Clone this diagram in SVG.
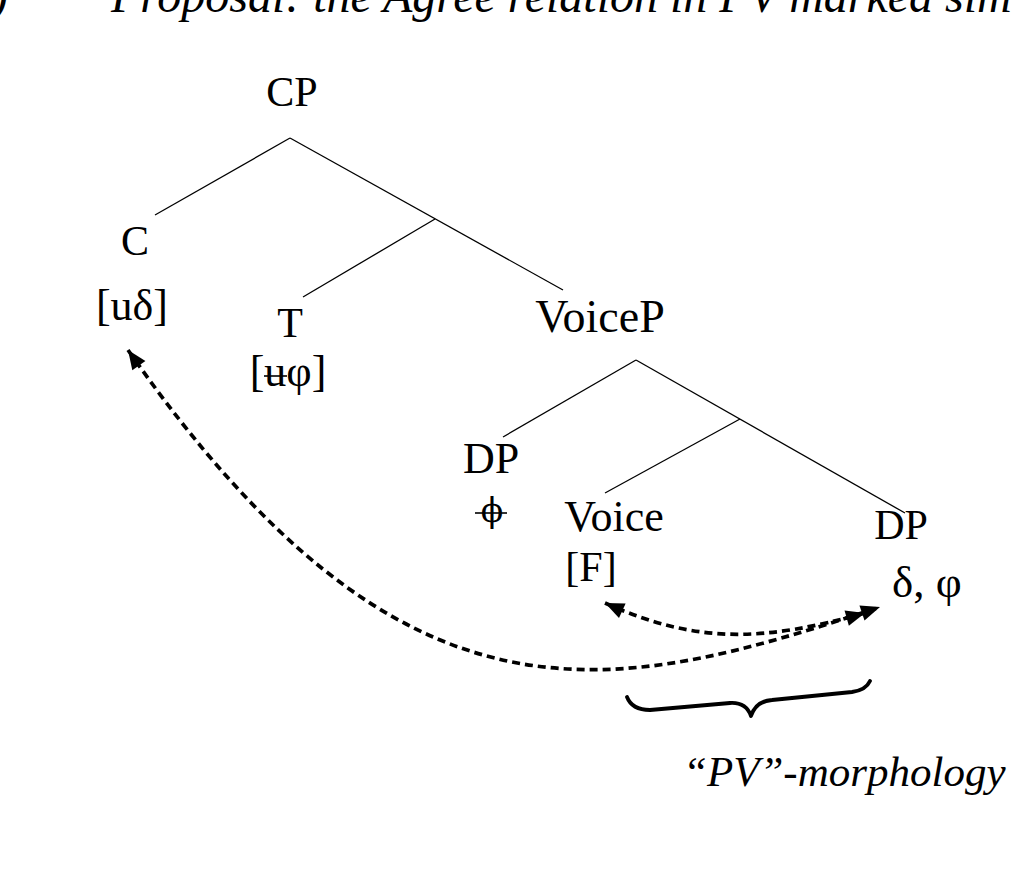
<svg xmlns="http://www.w3.org/2000/svg" width="1015" height="873" viewBox="0 0 1015 873">
  <style>
    text { font-family: "Liberation Serif", "Times New Roman", serif; fill: #000; }
    .lbl { font-size: 42px; text-anchor: middle; }
    .big { font-size: 44px; }
    .vp { font-size: 46px; }
    .feat { font-size: 45px; }
    .phi { font-family: "DejaVu Serif", serif; font-size: 33px; text-anchor: middle; }
    .pv { font-style: italic; font-size: 43px; }
    .title { font-style: italic; font-size: 48px; }
    .edge { stroke: #000; stroke-width: 1.3; fill: none; }
    .agree { stroke: #000; stroke-width: 3.7; stroke-dasharray: 8 5; fill: none; marker-start: url(#ah); marker-end: url(#ah); }
    .strike { stroke: #000; stroke-width: 1.6; }
    .brace { stroke: #000; stroke-width: 3.8; fill: none; stroke-linecap: round; stroke-linejoin: round; }
  </style>
  <defs>
    <marker id="ah" markerUnits="userSpaceOnUse" markerWidth="21" markerHeight="16" refX="19" refY="8" orient="auto-start-reverse" overflow="visible">
      <path d="M0,0 L19,8 L0,16 z" fill="#000"/>
    </marker>
  </defs>
  <rect width="1015" height="873" fill="#fff"/>

  <g id="title">
    <text x="-8" y="12" class="title">)</text>
    <text x="111" y="12" class="title">Proposal: the Agree relation in PV marked sim</text>
  </g>

  <g id="connectors">
    <line class="edge" x1="290" y1="138" x2="155" y2="215"/>
    <line class="edge" x1="290" y1="138" x2="563" y2="290"/>
    <line class="edge" x1="435" y1="219" x2="303" y2="297"/>
    <line class="edge" x1="636" y1="360" x2="503" y2="437"/>
    <line class="edge" x1="636" y1="360" x2="905" y2="513"/>
    <line class="edge" x1="740" y1="419" x2="605" y2="493"/>
    <path class="agree" d="M128,350 C404,746 610,697 880,607"/>
    <path class="agree" d="M605,603 C698,645 765,641 865,613"/>
  </g>

  <g id="node-CP"><text class="lbl" x="292" y="106">CP</text></g>
  <g id="node-C">
    <text class="lbl" x="135" y="255">C</text>
    <text class="lbl big" x="132" y="320">[uδ]</text>
  </g>
  <g id="node-T">
    <text class="lbl" x="290" y="337">T</text>
    <text class="lbl big" x="288" y="386">[uφ]</text>
    <line class="strike" x1="264" y1="376" x2="287" y2="376"/>
  </g>
  <g id="node-VoiceP"><text class="lbl vp" x="600" y="332">VoiceP</text></g>
  <g id="node-DP-spec">
    <text class="lbl big" x="491" y="473">DP</text>
    <text class="phi" x="492" y="522">ϕ</text>
    <line class="strike" x1="475" y1="513" x2="507" y2="513"/>
  </g>
  <g id="node-Voice">
    <text class="lbl big" x="614" y="531">Voice</text>
    <text class="lbl" x="591" y="581">[F]</text>
  </g>
  <g id="node-DP-obj">
    <text class="lbl" x="901" y="539">DP</text>
    <text class="feat" x="892" y="597">δ, φ</text>
  </g>
  <g id="brace">
    <path class="brace" d="M627,697 Q632,710 650,710 L730,703 Q746,702 751,716 Q756,701 772,700 L852,692 Q866,690 870,681"/>
  </g>
  <g id="label-PV">
    <text x="683" y="786" class="pv">“PV”-morphology</text>
  </g>
</svg>
